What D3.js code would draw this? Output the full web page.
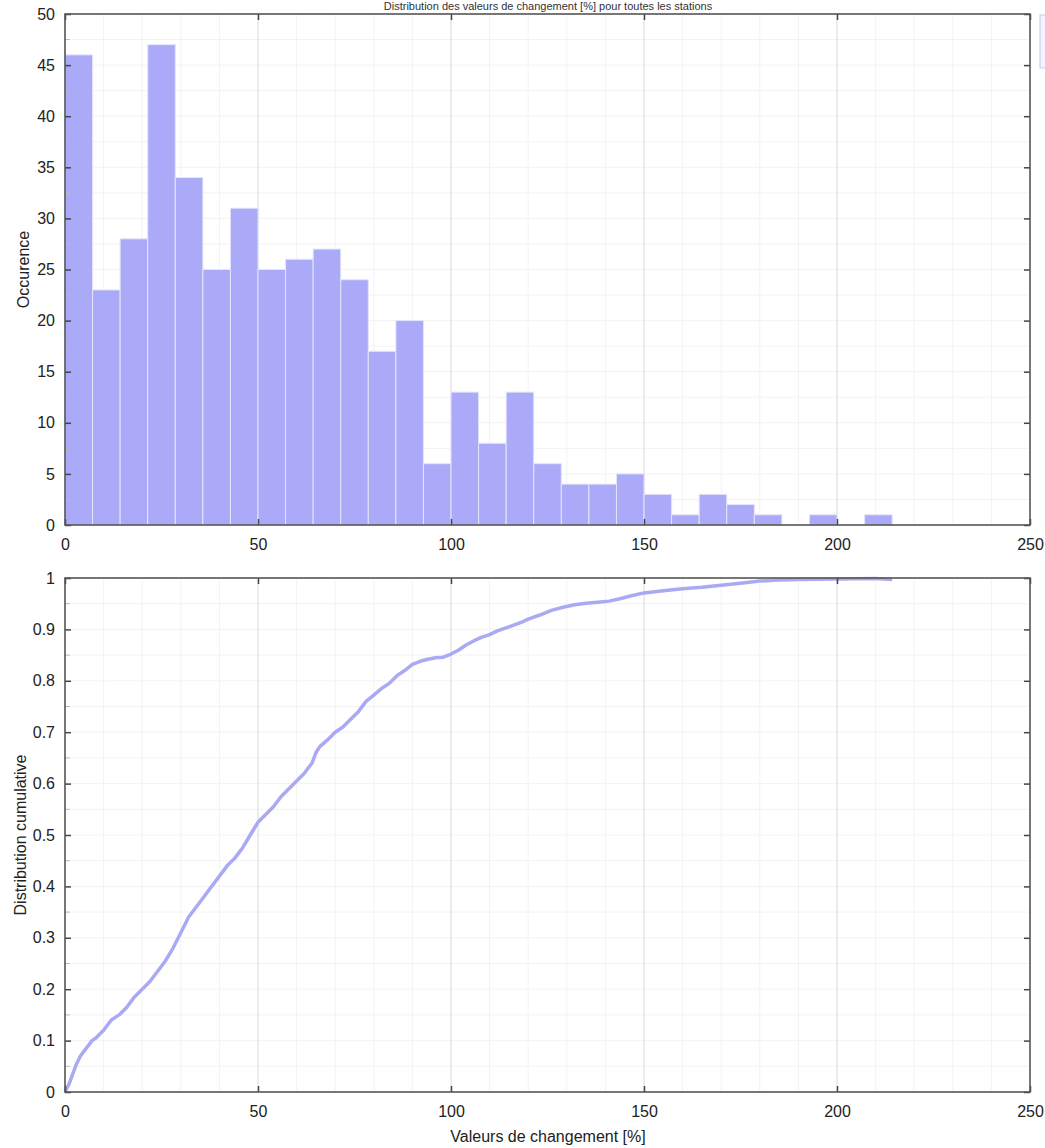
<!DOCTYPE html>
<html><head><meta charset="utf-8">
<script src="https://cdn.jsdelivr.net/npm/d3@7"></script>
<style>body{margin:0;background:#fff;} text{font-family:"Liberation Sans",Arial,sans-serif;}</style>
</head><body>
<svg id="chart" width="1045" height="1148"></svg>
<script>
// Histogram: 30 bins between 0 and max value
const binMax = 214.3;
const histCounts = [46,23,28,47,34,25,31,25,26,27,24,17,20,6,13,8,13,6,4,4,5,3,1,3,2,1,0,1,0,1];
// Cumulative distribution
const cdfX = [0,1,2,3,4,5,6,7,8,10,12,14,16,18,20,22,24,26,28,30,32,34,36,38,40,42,44,46,48,50,52,54,56,58,60,62,64,65,66,68,70,72,74,76,78,80,82,84,86,88,90,92,94,96,98,100,102,104,106,108,110,112,115,118,120,123,126,129,132,135,138,141,144,147,150,155,160,165,170,175,180,185,190,200,210,214.3];
const cdfY = [0,0.015,0.035,0.055,0.07,0.08,0.09,0.1,0.105,0.12,0.14,0.15,0.165,0.185,0.2,0.215,0.235,0.255,0.28,0.31,0.34,0.36,0.38,0.4,0.42,0.44,0.455,0.475,0.5,0.525,0.54,0.555,0.575,0.59,0.605,0.62,0.64,0.66,0.672,0.685,0.7,0.71,0.725,0.74,0.76,0.772,0.785,0.795,0.81,0.82,0.832,0.838,0.842,0.845,0.846,0.852,0.86,0.87,0.878,0.885,0.89,0.897,0.905,0.913,0.92,0.928,0.937,0.943,0.948,0.951,0.953,0.955,0.96,0.966,0.971,0.975,0.979,0.982,0.986,0.99,0.994,0.996,0.997,0.998,0.999,0.997];
const xTicks = [0,50,100,150,200,250];
const yTicksHist = [0,5,10,15,20,25,30,35,40,45,50];
const yTicksCdf = [0,0.1,0.2,0.3,0.4,0.5,0.6,0.7,0.8,0.9,1];
const titleText = "Distribution des valeurs de changement [%] pour toutes les stations";
const yLabelHist = "Occurence";
const yLabelCdf = "Distribution cumulative";
const xLabel = "Valeurs de changement [%]";

const svg = d3.select("#chart");
const L = 65, R = 1030;
const barColor = "#aaaaf8", lineColor = "#a9a9f4";
const fmt = d => String(d);

// title (sits in the thin strip above the top frame)
svg.append("text").attr("x", 548).attr("y", 10).attr("text-anchor","middle")
  .attr("font-size", 11).attr("fill","#333").text(titleText);
// legend patch at the far right
svg.append("rect").attr("x",1040).attr("y",15).attr("width",30).attr("height",53)
  .attr("fill","#f3f3ff").attr("stroke","#c8c8f0");

function panel(top, bottom, yDomain, yTicks, yMinorStep, yLabel, labelY) {
  const x = d3.scaleLinear().domain([0,250]).range([L,R]);
  const y = d3.scaleLinear().domain(yDomain).range([bottom, top]);
  const g = svg.append("g");
  const minorX = d3.range(10, 250, 10).filter(v => v % 50 !== 0);
  g.selectAll(".mgx").data(minorX).join("line")
    .attr("x1", d=>x(d)).attr("x2", d=>x(d)).attr("y1", top).attr("y2", bottom)
    .attr("stroke","#f3f3f3").attr("stroke-width",1);
  const minorY = d3.range(yDomain[0]+yMinorStep, yDomain[1]-1e-9, yMinorStep);
  g.selectAll(".mgy").data(minorY).join("line")
    .attr("x1", L).attr("x2", R).attr("y1", d=>y(d)).attr("y2", d=>y(d))
    .attr("stroke","#f3f3f3").attr("stroke-width",1);
  g.selectAll(".gx").data([50,100,150,200]).join("line")
    .attr("x1", d=>x(d)).attr("x2", d=>x(d)).attr("y1", top).attr("y2", bottom)
    .attr("stroke","#d8d8d8").attr("stroke-width",1);
  return {x, y, g, top, bottom, yTicks, yMinorStep, yLabel, labelY};
}

function frame(p, fmtY) {
  const {x, y, top, bottom} = p;
  const g = svg.append("g");
  const ax = g.append("g").attr("transform",`translate(0,${bottom})`)
    .call(d3.axisBottom(x).tickValues(xTicks).tickSize(-6).tickFormat(fmt).tickPadding(14));
  const ay = g.append("g").attr("transform",`translate(${L},0)`)
    .call(d3.axisLeft(y).tickValues(p.yTicks).tickSize(-6).tickFormat(fmtY).tickPadding(10));
  const ayr = g.append("g").attr("transform",`translate(${R},0)`)
    .call(d3.axisRight(y).tickValues(p.yTicks).tickSize(-6).tickFormat(""));
  const axt = g.append("g").attr("transform",`translate(0,${top})`)
    .call(d3.axisTop(x).tickValues(xTicks).tickSize(-6).tickFormat(""));
  [ax,ay,ayr,axt].forEach(a => {
    a.select(".domain").remove();
    a.selectAll(".tick line").attr("stroke","#444").attr("stroke-width",1.5);
    a.selectAll("text").attr("font-size",16).attr("fill","#222")
      .style("font-family","'Liberation Sans',Arial,sans-serif");
  });
  const minorY = d3.range(p.y.domain()[0]+p.yMinorStep, p.y.domain()[1]-1e-9, p.yMinorStep)
    .filter(v => !p.yTicks.some(t => Math.abs(t-v) < 1e-9));
  g.selectAll(".mty").data(minorY).join("line")
    .attr("x1", L).attr("x2", L+5).attr("y1", d=>y(d)).attr("y2", d=>y(d))
    .attr("stroke","#bbb").attr("stroke-width",1);
  g.append("rect").attr("x",L).attr("y",top).attr("width",R-L).attr("height",bottom-top)
    .attr("fill","none").attr("stroke","#555").attr("stroke-width",1.6);
  svg.append("text").attr("transform",`translate(${p.labelY},${(top+bottom)/2}) rotate(-90)`)
    .attr("text-anchor","middle").attr("font-size",16).attr("fill","#222").text(p.yLabel);
}

// ---- top panel: histogram ----
const p1 = panel(14, 525, [0,50], yTicksHist, 2.5, yLabelHist, 29);
const bw = binMax / histCounts.length;
const bins = histCounts.map((c,i) => ({x0: i*bw, x1: (i+1)*bw, c}));
p1.g.selectAll(".bar").data(bins.filter(b => b.c > 0)).join("rect")
  .attr("x", d => p1.x(d.x0)).attr("width", d => p1.x(d.x1) - p1.x(d.x0))
  .attr("y", d => p1.y(d.c)).attr("height", d => p1.y(0) - p1.y(d.c))
  .attr("fill", barColor).attr("stroke","#e4e4fb").attr("stroke-width",1);
frame(p1, fmt);

// ---- bottom panel: cdf ----
const p2 = panel(578, 1092, [0,1], yTicksCdf, 0.05, yLabelCdf, 26);
const pts = cdfX.map((v,i) => [v, cdfY[i]]);
p2.g.append("path").datum(pts)
  .attr("d", d3.line().x(d => p2.x(d[0])).y(d => p2.y(d[1])))
  .attr("fill","none").attr("stroke", lineColor).attr("stroke-width",3.5)
  .attr("stroke-linejoin","round");
frame(p2, d => d3.format("~g")(d));

svg.append("text").attr("x", 548).attr("y", 1142).attr("text-anchor","middle")
  .attr("font-size",16).attr("fill","#222").text(xLabel);
</script>
</body></html>
